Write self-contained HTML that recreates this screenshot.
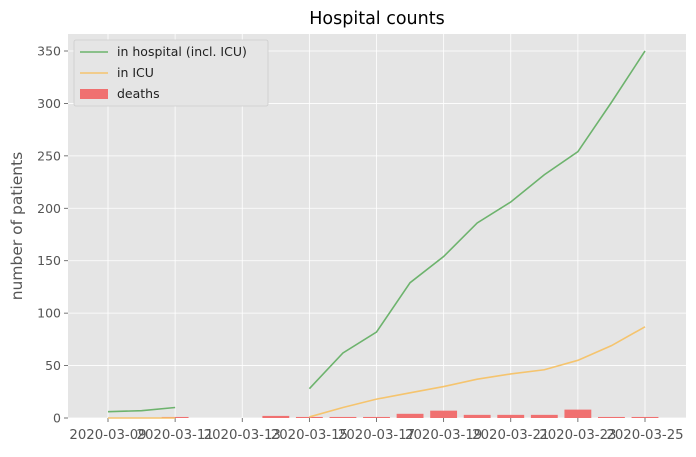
<!DOCTYPE html>
<html><head><meta charset="utf-8"><style>
body{margin:0;background:#fff;font-family:"Liberation Sans","DejaVu Sans",sans-serif}
svg text{font-family:"DejaVu Sans","Liberation Sans",sans-serif}
</style></head><body>
<svg id="c" width="696" height="452" xmlns="http://www.w3.org/2000/svg"></svg>
<script>
const dates=["2020-03-09","2020-03-10","2020-03-11","2020-03-12","2020-03-13","2020-03-14","2020-03-15","2020-03-16","2020-03-17","2020-03-18","2020-03-19","2020-03-20","2020-03-21","2020-03-22","2020-03-23","2020-03-24","2020-03-25"];
const hospital=[6,7,10,null,null,null,28,62,82,129,154,186,206,232,254,301,350];
const icu=[0,0,0,null,null,null,1,10,18,24,30,37,42,46,55,69,87];
const deaths=[0,0,1,0,0,2,1,1,1,4,7,3,3,3,8,1,1];
const yTicks=[0,50,100,150,200,250,300,350];
const xTickIdx=[0,2,4,6,8,10,12,14,16];

const NS="http://www.w3.org/2000/svg";
const svg=document.getElementById('c');
const L=68,R=686,T=34,B=418;
const x=i=>108+i*(645-108)/16;
const y=v=>B-v*(B-51)/350;
function el(t,a,p){const e=document.createElementNS(NS,t);for(const k in a)e.setAttribute(k,a[k]);(p||svg).appendChild(e);return e;}

const bg=el('rect',{x:L,y:T,width:R-L,height:B-T,fill:'#e5e5e5'});


yTicks.forEach(v=>{
  const g=el('line',{x1:L,x2:R,y1:y(v),y2:y(v),stroke:'#fff','stroke-width':0.8});
  
  
  el('line',{x1:L-4,x2:L,y1:y(v),y2:y(v),stroke:'#555','stroke-width':0.8});
  const t=el('text',{x:L-7,y:y(v)+4.5,'text-anchor':'end','font-size':12.5,fill:'#555'});
  t.textContent=v;
  
  
});
xTickIdx.forEach(i=>{
  const g=el('line',{x1:x(i),x2:x(i),y1:T,y2:B,stroke:'#fff','stroke-width':0.8});
  
  
  el('line',{x1:x(i),x2:x(i),y1:B,y2:B+4,stroke:'#555','stroke-width':0.8});
  const t=el('text',{x:x(i),y:B+21,'text-anchor':'middle','font-size':13.3,fill:'#555'});
  t.textContent=dates[i];
  
  
});
const bw=0.8*(645-108)/16;
deaths.forEach((v,i)=>{
  if(v<=0)return;
  const r=el('rect',{x:x(i)-bw/2,y:y(v),width:bw,height:B-y(v),fill:'#f07070'});
  
  
});
function line(arr,col,name){
  let d='',pen=false;
  arr.forEach((v,i)=>{if(v==null){pen=false;return;}d+=(pen?'L':'M')+x(i)+' '+y(v)+' ';pen=true;});
  const p=el('path',{d:d,fill:'none',stroke:col,'stroke-width':1.6});
  
  
}
line(hospital,'#6db36d','hospital-line');
line(icu,'#f5c46e','icu-line');

const ti=el('text',{x:377,y:24,'text-anchor':'middle','font-size':17.5,fill:'#000'});
ti.textContent='Hospital counts';


const yl=el('text',{x:22,y:226,'text-anchor':'middle','font-size':15.5,fill:'#555',transform:'rotate(-90 22 226)'});
yl.textContent='number of patients';



const lg=el('g',{});


el('rect',{x:74,y:40,width:194,height:66,fill:'#e5e5e5',stroke:'#ccc','stroke-width':0.8,rx:2},lg);
const items=[['in hospital (incl. ICU)','#6db36d','line'],['in ICU','#f5c46e','line'],['deaths','#f07070','bar']];
items.forEach((it,k)=>{
  const yy=52+k*21;
  if(it[2]==='line')el('line',{x1:80,x2:108,y1:yy,y2:yy,stroke:it[1],'stroke-width':1.6},lg);
  else el('rect',{x:80,y:yy-5,width:28,height:10,fill:it[1]},lg);
  const t=el('text',{x:117,y:yy+4,'font-size':12.5,fill:'#222'},lg);
  t.textContent=it[0];
  
  
});
</script>
</body></html>
